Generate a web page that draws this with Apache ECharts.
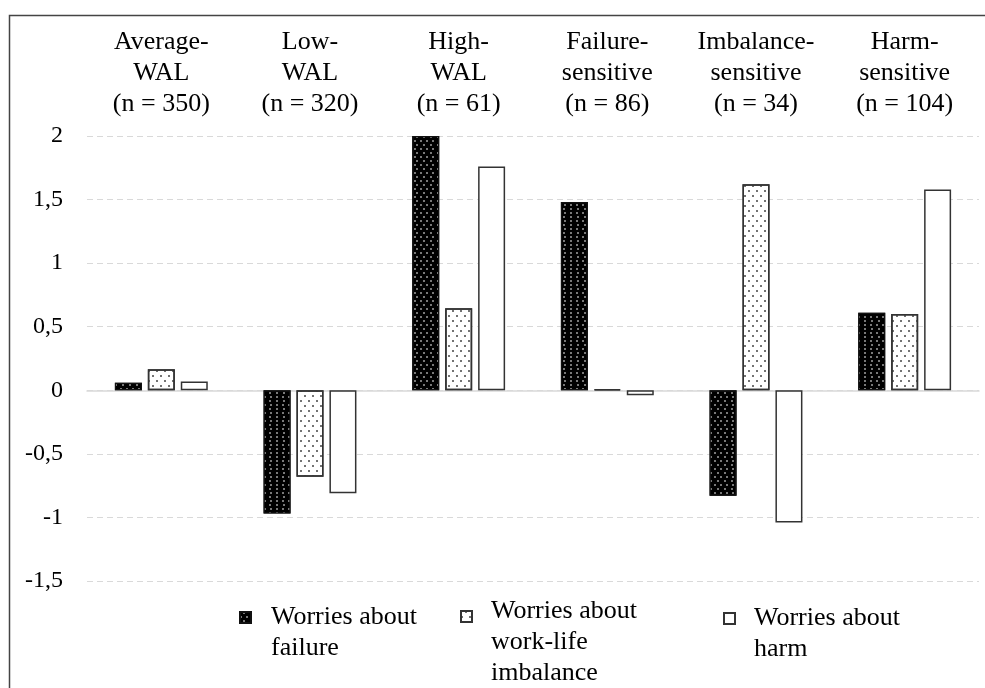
<!DOCTYPE html>
<html>
<head>
<meta charset="utf-8">
<script src="https://cdn.jsdelivr.net/npm/echarts@6/dist/echarts.min.js"></script>
<style>
html,body{margin:0;padding:0;background:#fff;}
#chart{width:985px;height:688px;}
</style>
</head>
<body>
<div id="chart"></div>
<script>
var categories = ['Average-\nWAL', 'Low-\nWAL', 'High-\nWAL', 'Failure-\nsensitive', 'Imbalance-\nsensitive', 'Harm-\nsensitive'];
var groupSizes = ['(n = 350)', '(n = 320)', '(n = 61)', '(n = 86)', '(n = 34)', '(n = 104)'];
var seriesNames = ['Worries about failure', 'Worries about work-life imbalance', 'Worries about harm'];
var legendLines = [['Worries about', 'failure'], ['Worries about', 'work-life', 'imbalance'], ['Worries about', 'harm']];
var failure = [0.06, -0.97, 2.00, 1.48, -0.83, 0.61];
var workLife = [0.165, -0.68, 0.645, 0.01, 1.62, 0.60];
var harm = [0.07, -0.81, 1.76, -0.04, -1.04, 1.58];

var chart = echarts.init(document.getElementById('chart'));
var serif = '"Liberation Serif", "Times New Roman", serif';
var topLabels = categories.map(function (c, i) { return c + '\n' + groupSizes[i]; });

function legendFor(idx, left, top, spacer, padLeft) {
  return {
    data: [seriesNames[idx]],
    left: left, top: top, padding: 0,
    icon: 'rect', itemWidth: 11, itemHeight: 11,
    selectedMode: false,
    formatter: function () {
      return '{s|\u200b}\n' + legendLines[idx].map(function (l) { return '{t|' + l + '}'; }).join('\n');
    },
    textStyle: {
      fontFamily: serif, fontSize: 26, color: '#000', lineHeight: 31,
      padding: [0, 0, 0, padLeft],
      rich: {
        s: { fontSize: 10, lineHeight: spacer, height: spacer },
        t: { fontFamily: serif, fontSize: 26, color: '#000', lineHeight: 31 }
      }
    }
  };
}

var option = {
  backgroundColor: '#fff',
  animation: false,
  graphic: [{
    type: 'rect', left: 7, top: 13, silent: true,
    shape: { width: 1000, height: 700 },
    style: { fill: 'none', stroke: '#444', lineWidth: 1.5 }
  }],
  grid: { left: 87, right: 6, top: 136, bottom: 107, containLabel: false },
  legend: [
    legendFor(0, 239, 571, 31, 15),
    legendFor(1, 460, 544, 52, 14),
    legendFor(2, 723, 572, 31, 14)
  ],
  xAxis: [{
    type: 'category', data: topLabels, position: 'bottom',
    axisLine: { show: true, onZero: true, lineStyle: { color: '#d9d9d9', width: 1.5 } },
    axisTick: { show: false }, axisLabel: { show: false }, splitLine: { show: false }
  }, {
    type: 'category', data: topLabels, position: 'top',
    axisLine: { show: false, onZero: false }, axisTick: { show: false },
    axisLabel: {
      show: true, margin: 16, interval: 0,
      fontFamily: serif, fontSize: 26, color: '#000', lineHeight: 31, align: 'center'
    }
  }],
  yAxis: {
    type: 'value', min: -1.5, max: 2, interval: 0.5,
    axisLine: { show: false }, axisTick: { show: false },
    axisLabel: {
      margin: 24, fontFamily: serif, fontSize: 24, color: '#000',
      formatter: function (v) { return String(v).replace('.', ','); }
    },
    splitLine: { show: true, lineStyle: { color: '#d9d9d9', width: 1, type: [6, 4] } }
  },
  series: [{
    name: seriesNames[0], type: 'bar', data: failure, xAxisIndex: 0,
    barWidth: 27, barGap: '22%',
    itemStyle: {
      color: '#000', borderColor: '#111', borderWidth: 1.2,
      decal: {
        symbol: 'circle', symbolSize: 1, color: '#a0a0a0',
        dashArrayX: [[1.4, 3.6], [0, 2.5, 1.4, 1.1]],
        dashArrayY: [1.4, 1.1]
      }
    }
  }, {
    name: seriesNames[1], type: 'bar', data: workLife, xAxisIndex: 0,
    barWidth: 27, barGap: '22%',
    itemStyle: {
      color: '#fff', borderColor: '#333', borderWidth: 1.5,
      decal: {
        symbol: 'circle', symbolSize: 1, color: '#444',
        dashArrayX: [[1.5, 5.5], [0, 3.5, 1.5, 2]],
        dashArrayY: [1.5, 2.5]
      }
    }
  }, {
    name: seriesNames[2], type: 'bar', data: harm, xAxisIndex: 0,
    barWidth: 27, barGap: '22%',
    itemStyle: { color: '#fff', borderColor: '#333', borderWidth: 1.5 }
  }]
};
chart.setOption(option);
</script>
</body>
</html>
